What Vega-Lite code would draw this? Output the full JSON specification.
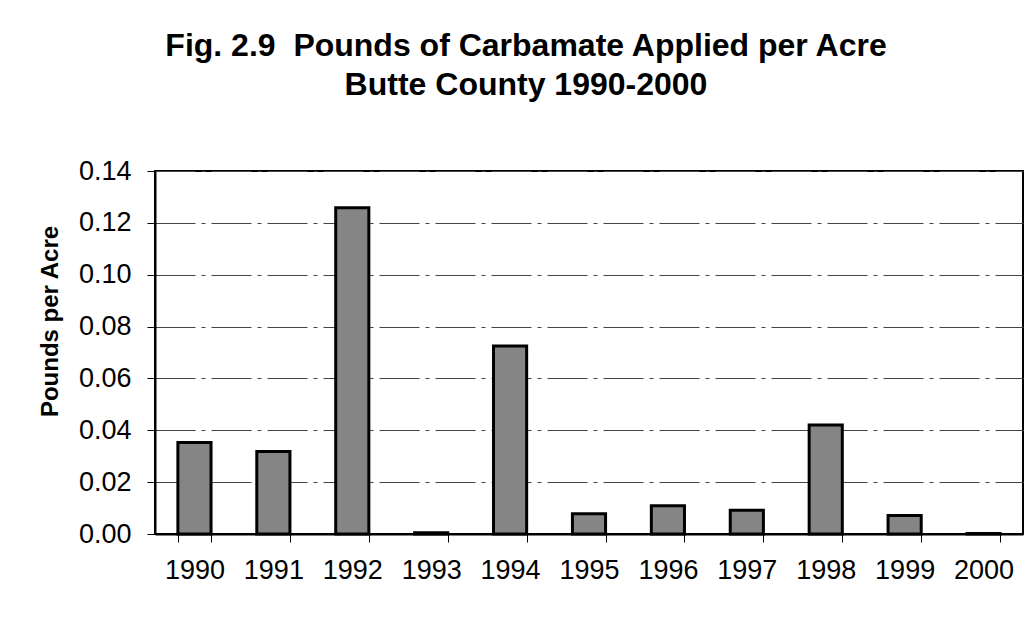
{
  "$schema": "https://vega.github.io/schema/vega-lite/v6.json",
  "autosize": {"type": "none"},
  "width": 868,
  "height": 363,
  "padding": {"left": 155, "top": 171, "right": 9, "bottom": 96},
  "background": "white",
  "title": {
    "text": ["Fig. 2.9\u00a0\u00a0Pounds of Carbamate Applied per Acre", "Butte County 1990-2000"],
    "font": "Liberation Sans",
    "fontSize": 32,
    "fontWeight": "bold",
    "lineHeight": 39,
    "color": "black",
    "anchor": "middle",
    "dx": -63,
    "offset": 55
  },
  "data": {
    "values": [
      {"year": "1990", "pounds": 0.0353},
      {"year": "1991", "pounds": 0.0318},
      {"year": "1992", "pounds": 0.1258},
      {"year": "1993", "pounds": 0.0005},
      {"year": "1994", "pounds": 0.0725},
      {"year": "1995", "pounds": 0.0078},
      {"year": "1996", "pounds": 0.0109},
      {"year": "1997", "pounds": 0.0092},
      {"year": "1998", "pounds": 0.042},
      {"year": "1999", "pounds": 0.0071},
      {"year": "2000", "pounds": 0.0002}
    ]
  },
  "mark": {"type": "bar", "fill": "#858585", "stroke": "black", "strokeWidth": 3},
  "encoding": {
    "x": {
      "field": "year",
      "type": "ordinal",
      "scale": {"paddingInner": 0.58, "paddingOuter": 0.29},
      "axis": {
        "title": null,
        "labelAngle": 0,
        "labelFont": "Liberation Sans",
        "labelFontSize": 27,
        "labelColor": "black",
        "labelPadding": 15,
        "tickSize": 8,
        "tickColor": "black",
        "tickBand": "extent",
        "domainColor": "black",
        "domainWidth": 2
      }
    },
    "y": {
      "field": "pounds",
      "type": "quantitative",
      "scale": {"domain": [0, 0.14], "nice": false},
      "axis": {
        "title": "Pounds per Acre",
        "titleFont": "Liberation Sans",
        "titleFontSize": 24,
        "titleFontWeight": "bold",
        "titleColor": "black",
        "titlePadding": 16,
        "titleY": 150,
        "values": [0, 0.02, 0.04, 0.06, 0.08, 0.1, 0.12, 0.14],
        "format": ".2f",
        "labelFont": "Liberation Sans",
        "labelFontSize": 27,
        "labelColor": "black",
        "labelPadding": 16,
        "tickSize": 8,
        "tickColor": "black",
        "domainColor": "black",
        "domainWidth": 2,
        "grid": true,
        "gridColor": "#444",
        "gridWidth": 1,
        "gridDash": [40, 6, 4, 6]
      }
    }
  },
  "config": {
    "view": {"stroke": "black", "strokeWidth": 2}
  }
}
